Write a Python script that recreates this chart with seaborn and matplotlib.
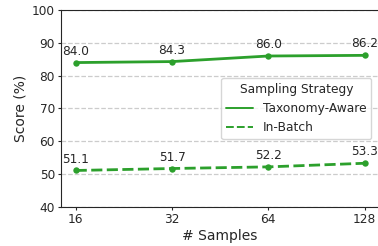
import pandas as pd
import matplotlib
matplotlib.use("Agg")
import matplotlib.pyplot as plt
from matplotlib.lines import Line2D
import seaborn as sns

# data
samples = [16, 32, 64, 128]
taxonomy_aware = [84.0, 84.3, 86.0, 86.2]
in_batch = [51.1, 51.7, 52.2, 53.3]
strategies = ["Taxonomy-Aware", "In-Batch"]

GREEN = "#2ca02c"
DASHES = (4, 1.6)

df = pd.DataFrame({
    "samples": samples * 2,
    "score": taxonomy_aware + in_batch,
    "strategy": [strategies[0]] * 4 + [strategies[1]] * 4,
})

sns.set_style("ticks")
plt.rcParams["font.family"] = ["DejaVu Sans"]

fig = plt.figure(figsize=(3.78, 2.46), dpi=100)
ax = fig.add_axes([0.162, 0.159, 0.841, 0.800])

sns.lineplot(
    data=df, x="samples", y="score", style="strategy",
    style_order=strategies, color=GREEN, linewidth=2.0,
    markers=["o", "o"], markersize=4.6, markeredgewidth=0,
    dashes=[(1, 0), DASHES], legend=False, ax=ax,
)

ax.set_xscale("log", base=2)
ax.set_xticks(samples)
ax.set_xticklabels([str(s) for s in samples])
ax.minorticks_off()
ax.set_ylim(40, 100)
ax.set_yticks(range(40, 101, 10))
ax.tick_params(labelsize=8.7, length=2, pad=2.5)
ax.yaxis.grid(True, linestyle="--", color="#cccccc", linewidth=0.9)
ax.set_axisbelow(True)

for s, v in zip(samples, taxonomy_aware):
    ax.annotate(f"{v:.1f}", (s, v), xytext=(0, 3.5), textcoords="offset points",
                ha="center", va="bottom", fontsize=8.7)
for s, v in zip(samples, in_batch):
    ax.annotate(f"{v:.1f}", (s, v), xytext=(0, 3.5), textcoords="offset points",
                ha="center", va="bottom", fontsize=8.7)

ax.set_xlabel("# Samples", fontsize=10, labelpad=2)
ax.set_ylabel("Score (%)", fontsize=10, labelpad=3)

handles = [
    Line2D([], [], color=GREEN, linewidth=1.4),
    Line2D([], [], color=GREEN, linewidth=1.4, linestyle=(0, DASHES)),
]
ax.legend(handles, strategies, title="Sampling Strategy", loc="center right",
          bbox_to_anchor=(0.995, 0.5), fontsize=8.8, title_fontsize=8.8,
          handlelength=2.2)

fig.savefig("out.png", dpi=100)
